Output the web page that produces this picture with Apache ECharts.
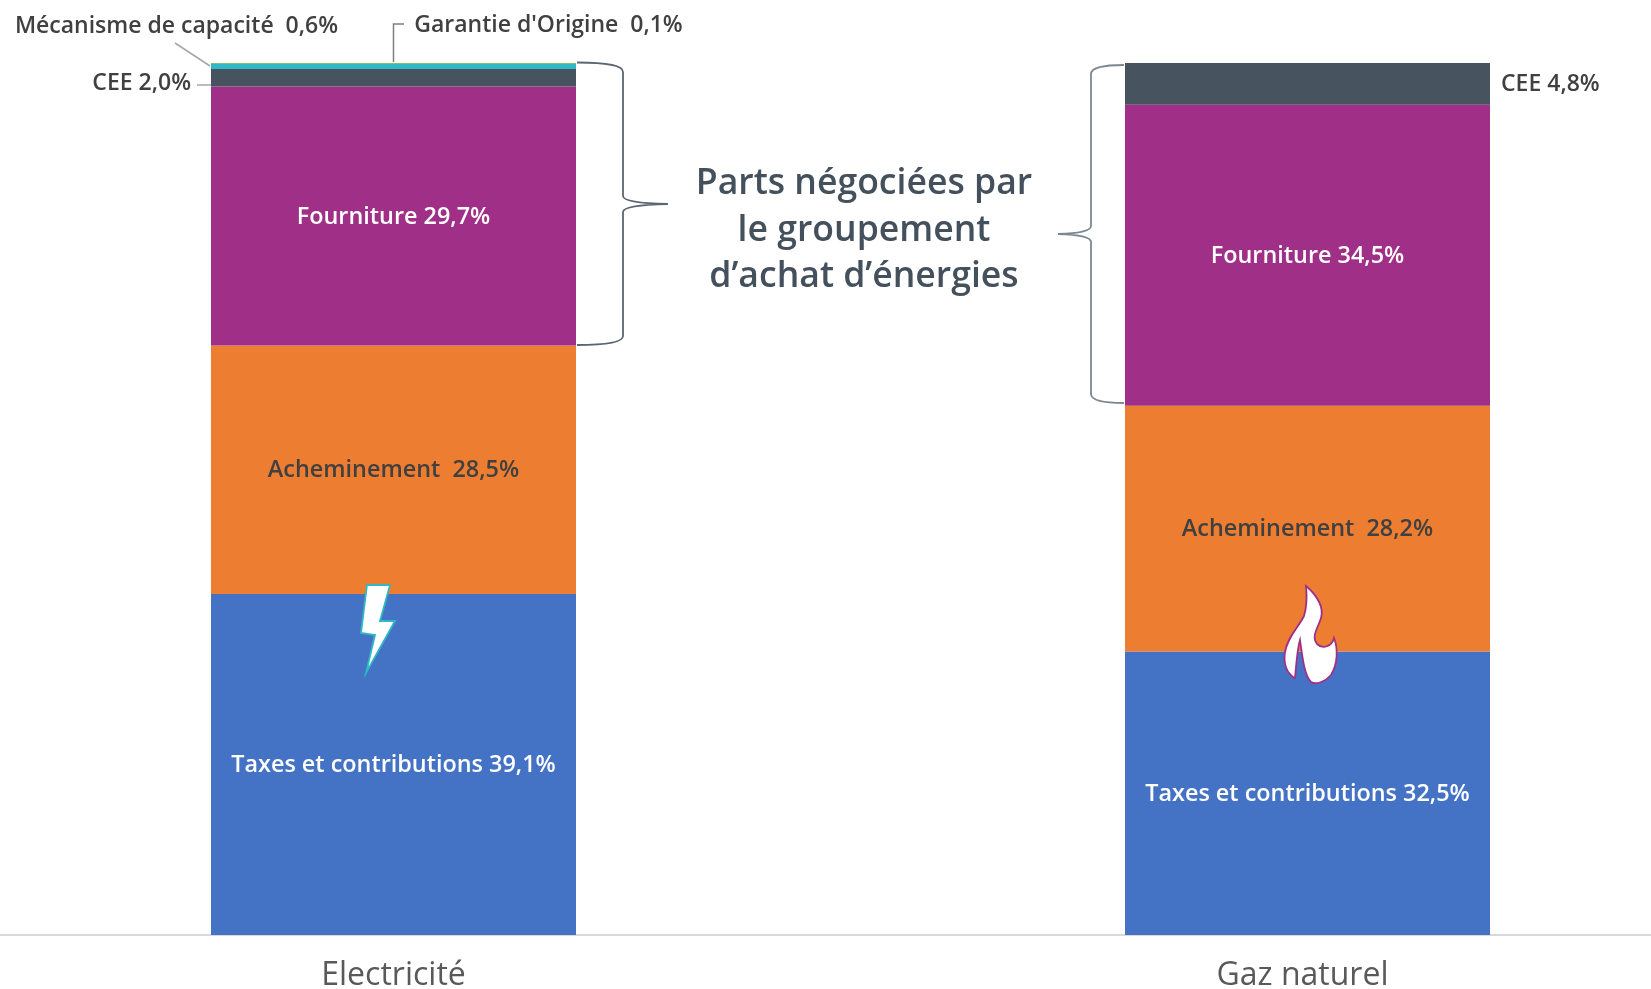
<!DOCTYPE html>
<html>
<head>
<meta charset="utf-8">
<style>html,body{margin:0;padding:0;background:#fff}#main{width:1651px;height:989px}</style>
<script src="https://cdn.jsdelivr.net/npm/echarts@6/dist/echarts.min.js"></script>
</head>
<body>
<div id="main"></div>
<script>
var categories = ['Electricité', 'Gaz naturel'];
var taxes = [39.1, 32.5];
var acheminement = [28.5, 28.2];
var fourniture = [29.7, 34.5];
var cee = [2.0, 4.8];
var capacite = [0.6, null];
var garantie = [0.1, null];

var font = '"Open Sans", sans-serif';
var dark = '#404040';

function pct(v) {
    return v.toFixed(1).replace('.', ',') + '%';
}

function inner(prefix, color) {
    return {
        show: true,
        position: 'inside',
        offset: [0, 1],
        color: color,
        fontFamily: font,
        fontWeight: 600,
        fontSize: 23.4,
        formatter: function (p) { return prefix + pct(p.value); }
    };
}

function outer(prefix, extra) {
    return Object.assign({
        show: true,
        color: dark,
        fontFamily: font,
        fontWeight: 600,
        fontSize: 23,
        formatter: function (p) { return p.value == null ? '' : prefix + pct(p.value); }
    }, extra);
}

function bar(name, values, color, label) {
    return {
        name: name,
        type: 'bar',
        stack: 'total',
        barWidth: 365,
        itemStyle: { color: color },
        label: label,
        data: values
    };
}

// accolades et pictos
var shapes = [
    { d: 'M577 62.5 Q623 62.5 623 72 L623 196 Q623 203 668 204 Q623 205 623 212 L623 336 Q623 345 577 345', fill: 'none', stroke: '#5b6672' },
    { d: 'M1124 65 Q1091 65 1091 74 L1091 226 Q1091 233 1058 234 Q1091 235 1091 242 L1091 394 Q1091 403 1124 403', fill: 'none', stroke: '#7d8791' },
    { d: 'M367 585 L390 585 L380 621 L395 621 L366 673 L375 635 L361 633 Z', fill: '#fff', stroke: '#2fb8c6' },
    { d: 'M1306 586 C1318 596 1324 608 1321 618 C1318 628 1311 636 1317 644 C1323 650 1332 646 1334 638 C1338 648 1338 664 1331 675 C1325 682 1316 685 1311 682 C1305 676 1303 662 1300 640 C1297 650 1296 668 1295 678 C1287 674 1283 664 1285 652 C1288 636 1298 628 1304 616 C1307 606 1307 596 1306 586 Z', fill: '#fff', stroke: '#a03087' }
];

var myChart = echarts.init(document.getElementById('main'));
var option = {
    animation: false,
    backgroundColor: '#fff',
    grid: { left: -63.5, top: 63, width: 1828, height: 872, outerBoundsMode: 'none' },
    xAxis: {
        type: 'category',
        data: [categories[0], { value: categories[1], textStyle: { padding: [0, 10, 0, 0] } }],
        axisTick: { show: false },
        axisLine: { lineStyle: { color: '#d9d9d9', width: 2 } },
        axisLabel: { color: '#595959', fontFamily: font, fontSize: 32, margin: 25 }
    },
    yAxis: { type: 'value', min: 0, max: 100, show: false },
    series: [
        bar('Taxes et contributions', taxes, '#4472c4', inner('Taxes et contributions ', '#fff')),
        bar('Acheminement', acheminement, '#ed7d31', inner('Acheminement  ', dark)),
        bar('Fourniture', fourniture, '#a03087', inner('Fourniture ', '#fff')),
        bar('CEE', [
            { value: cee[0], label: { position: 'left', distance: 20, offset: [0, 6] } },
            { value: cee[1], label: { position: 'right', distance: 11, offset: [0, 1] } }
        ], '#47535f', outer('CEE ', {})),
        bar('Mécanisme de capacité', capacite, '#2fb8c6',
            outer('Mécanisme de capacité  ', { position: 'left', distance: 0, offset: [127, -40] })),
        bar('Garantie d\'Origine', garantie, '#70ad47',
            outer('Garantie d\'Origine  ', { position: 'top', distance: 0, offset: [155, -26] })),
        {
            type: 'custom',
            coordinateSystem: 'none',
            silent: true,
            z: 5,
            data: [0],
            renderItem: function () {
                return {
                    type: 'group',
                    children: shapes.map(function (s) {
                        return {
                            type: 'path',
                            shape: { pathData: s.d },
                            style: { fill: s.fill, stroke: s.stroke, lineWidth: 1.8 }
                        };
                    })
                };
            }
        }
    ],
    graphic: [
        { type: 'polyline', shape: { points: [[175, 43], [210, 66]] }, style: { fill: 'none', stroke: '#a6a6a6', lineWidth: 1.5 } },
        { type: 'polyline', shape: { points: [[197, 85], [211, 85]] }, style: { fill: 'none', stroke: '#a6a6a6', lineWidth: 1.5 } },
        { type: 'polyline', shape: { points: [[393.5, 62], [393.5, 24], [404, 24]] }, style: { fill: 'none', stroke: '#7f7f7f', lineWidth: 1.5 } },
        { type: 'text', x: 864, y: 184, style: { text: 'Parts négociées par', font: '600 35.6px ' + font, fill: '#44505c', align: 'center', verticalAlign: 'middle' } },
        { type: 'text', x: 864, y: 231, style: { text: 'le groupement', font: '600 35.6px ' + font, fill: '#44505c', align: 'center', verticalAlign: 'middle' } },
        { type: 'text', x: 864, y: 277, style: { text: 'd’achat d’énergies', font: '600 35.6px ' + font, fill: '#44505c', align: 'center', verticalAlign: 'middle' } }
    ]
};
myChart.setOption(option);
</script>
</body>
</html>
